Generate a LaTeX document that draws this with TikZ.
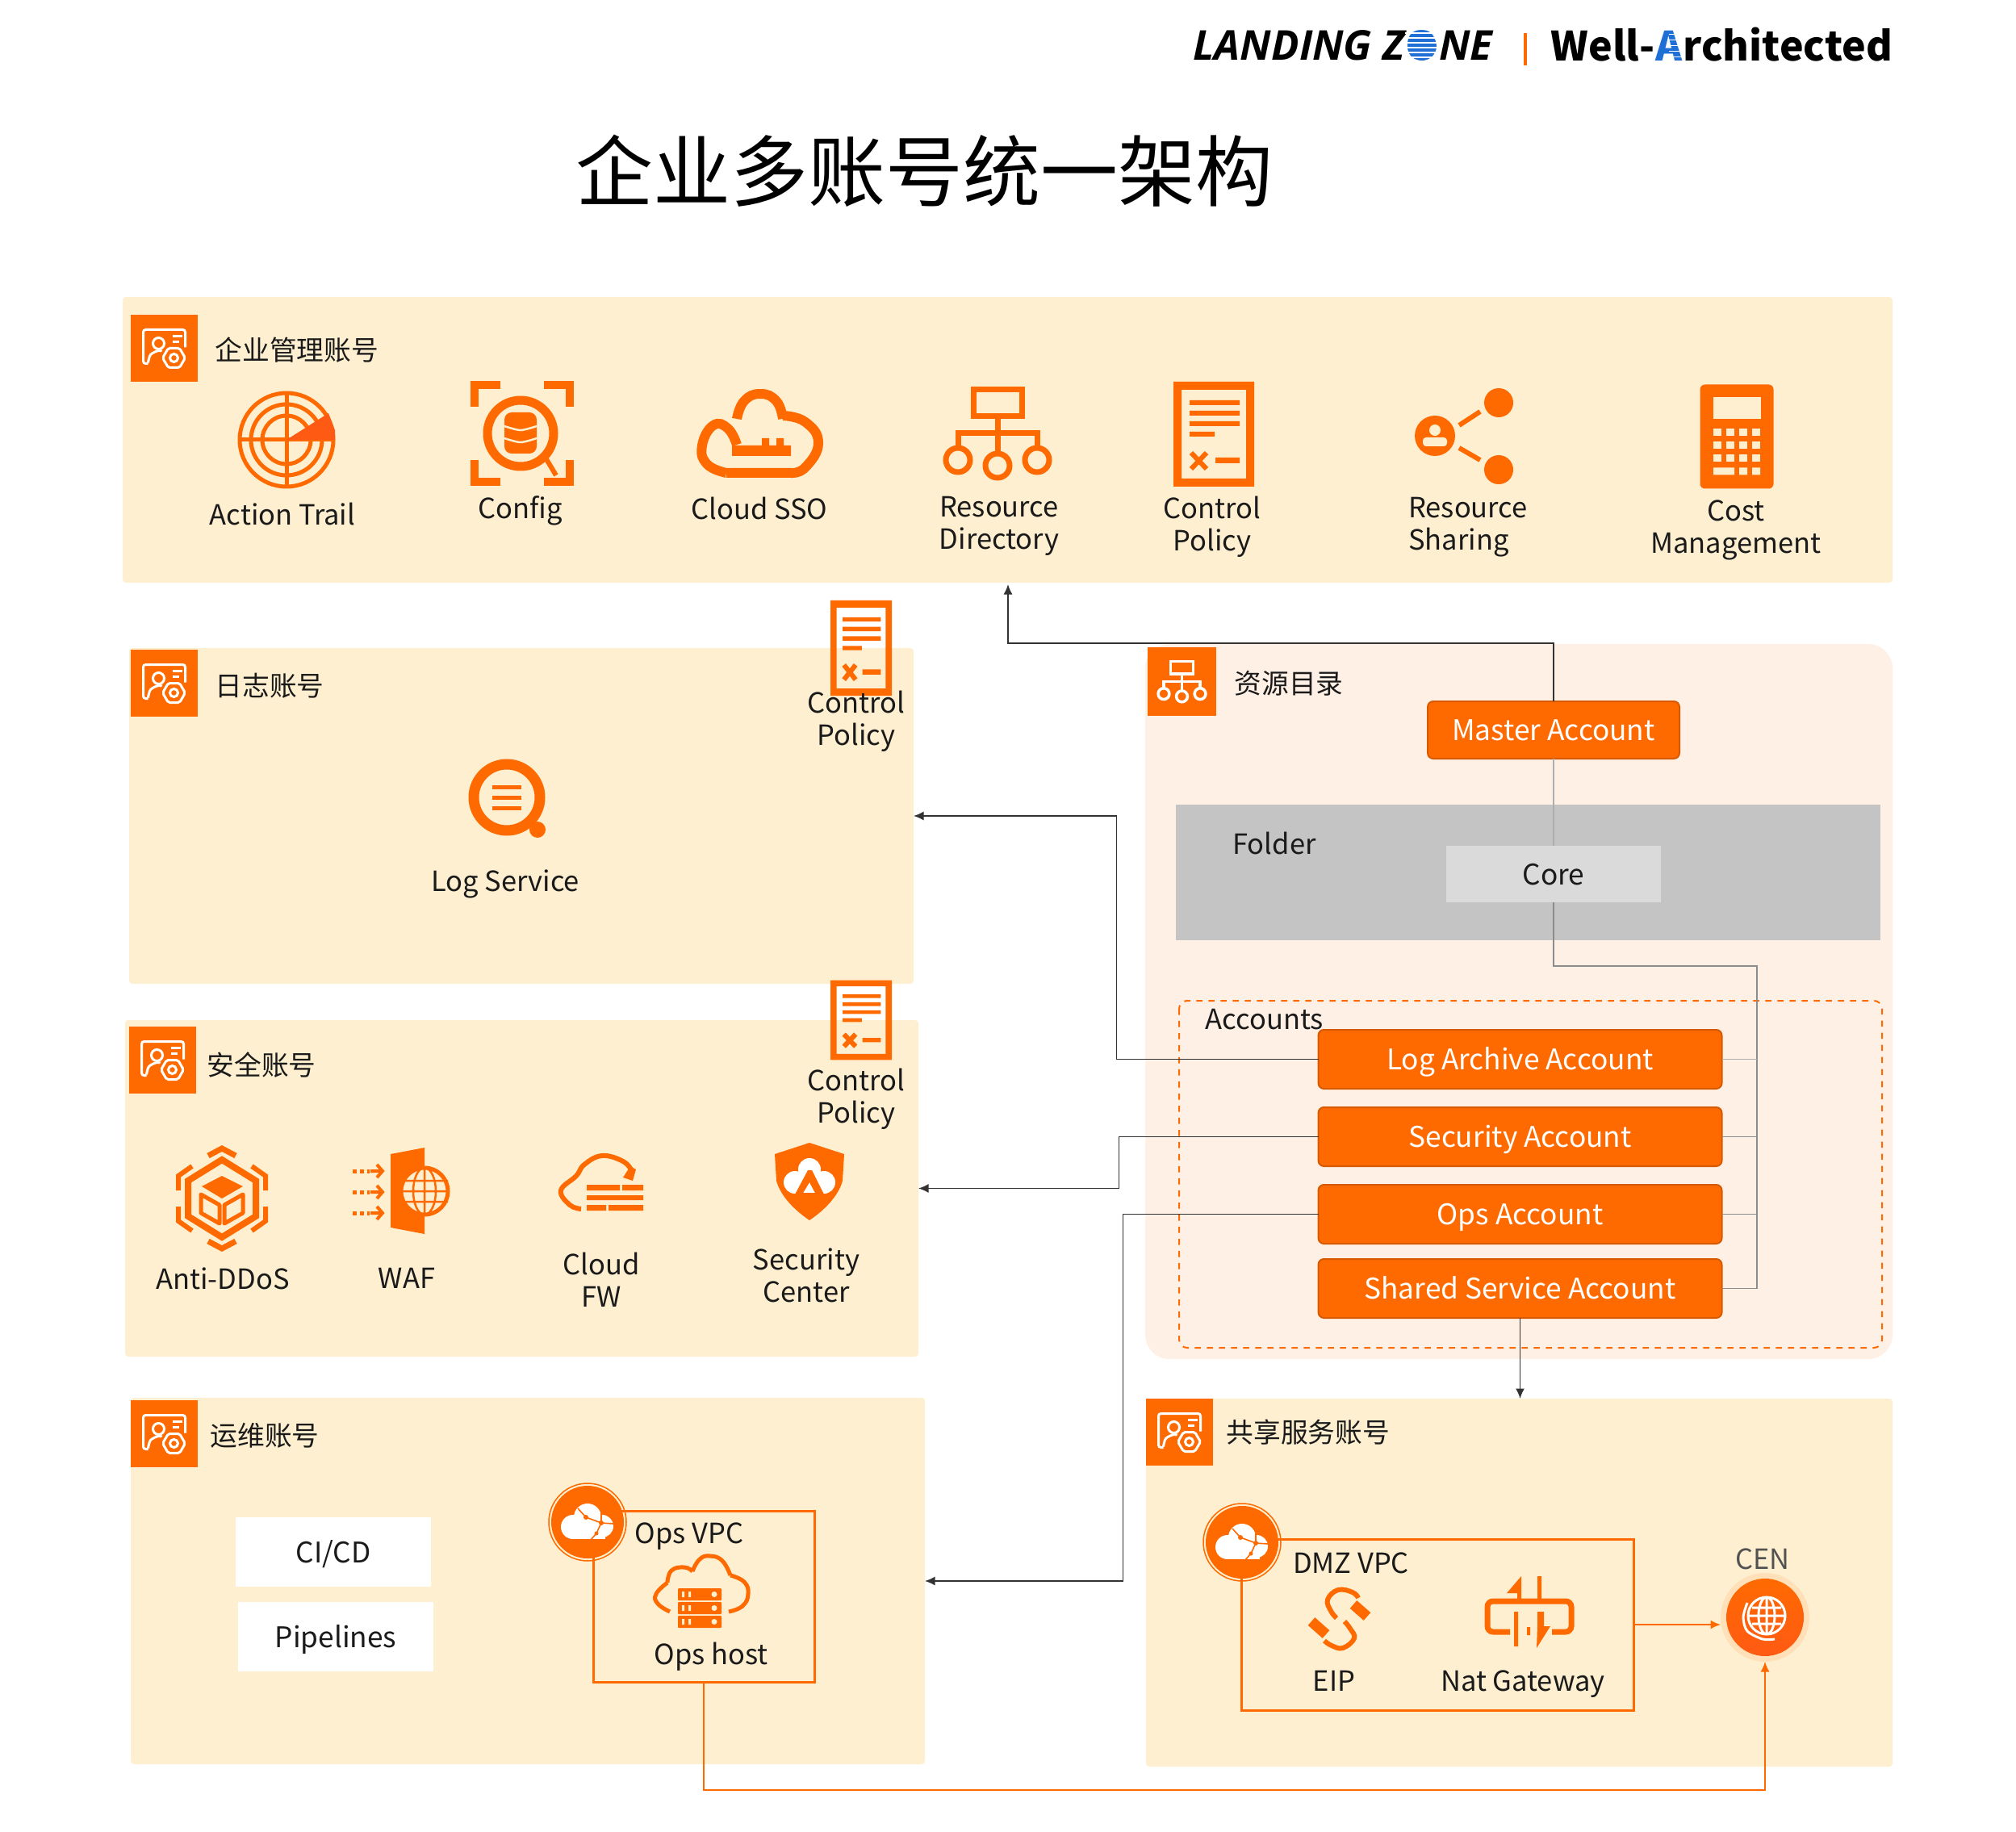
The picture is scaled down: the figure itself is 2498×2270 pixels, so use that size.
\documentclass[tikz,border=0pt]{standalone}
\usepackage{fontspec}
\setmainfont{Noto Sans CJK SC}
\newfontfamily\lzfont{Open Sans}
\usetikzlibrary{arrows.meta,positioning,shapes.geometric}
\definecolor{Orange}{HTML}{FF6A00}
\definecolor{Deep}{HTML}{FF5A14}
\definecolor{Cream}{HTML}{FEEFD0}
\definecolor{Blush}{HTML}{FFF0E6}
\definecolor{Ink}{HTML}{1A1A1A}
\definecolor{Edge}{HTML}{D85A00}
\definecolor{Folder}{HTML}{C4C4C4}
\definecolor{CoreGray}{HTML}{DADADA}
\definecolor{Wire}{HTML}{8C8C8C}
\definecolor{Dark}{HTML}{333333}
\definecolor{Halo}{HTML}{FFE0B8}
\definecolor{LogoBlue}{HTML}{1F6FD6}
\newlength\px
\setlength\px{0.4pt}
\tikzset{
  ctrl/.pic={
    \fill[Orange,even odd rule] (-50,-65) rectangle (50,65) (-40,-55) rectangle (40,55);
    \fill[Orange] (-30,-42) rectangle (32,-36) (-30,-29) rectangle (32,-23) (-30,-16) rectangle (32,-10) (-30,-3) rectangle (1,3) (2,29) rectangle (32,36);
    \draw[Orange,line width=6\px] (-28,23) -- (-9,43) (-9,23) -- (-28,43);
  },
  acct/.pic={
    \draw[white,line width=3\px,rounded corners=3\px] (26,-1) -- (26,-23) -- (-26,-23) -- (-26,19) -- (-20,19);
    \draw[white,line width=3\px] (-7,-6) circle (7);
    \draw[white,line width=3\px] plot[smooth] coordinates {(-20,18) (-17,8) (-7,3) (1,5)};
    \draw[white,line width=3\px] (10,-15) -- (22,-15) (10,-8) -- (18,-8);
    \fill[Orange] (12,12) circle (17);
    \draw[white,line width=3\px,rounded corners=2\px] (26,12) -- (19,24) -- (5,24) -- (-2,12) -- (5,0) -- (19,0) -- cycle;
    \draw[white,line width=3\px] (12,12) circle (5);
  },
  orgchart/.pic={
    \draw[pic actions] (-30,-54) rectangle (30,-21);
    \draw[pic actions] (0,-21) -- (0,25) (-49,18) -- (-49,0) -- (49,0) -- (49,18);
    \draw[pic actions] (-49,33) circle (15) (0,40) circle (15) (49,33) circle (15);
  },
  radar/.pic={
    \foreach \rr in {58,44,30} {\draw[Orange,line width=5\px] (0,0) circle (\rr);}
    \draw[Orange,line width=5\px] (-60,0) -- (60,0) (0,-60) -- (0,60);
    \fill[Deep] (0,0) -- (60,0) -- (60,-12) -- (52,-33) -- cycle;
  },
  configic/.pic={
    \draw[Orange,line width=10\px] (-59,-33) |- (-27,-60) (27,-60) -| (59,-33) (-59,33) |- (-27,60) (27,60) -| (59,33);
    \draw[Orange,line width=11\px] (-2,0) circle (41);
    \draw[Orange,line width=6\px] (30,32) -- (42,52);
    \fill[Orange,rounded corners=9\px] (-22,-26) rectangle (18,25);
    \draw[Cream,line width=2.5\px] plot[smooth] coordinates {(-22,-9) (-2,-4) (18,-9)};
    \draw[Cream,line width=2.5\px] plot[smooth] coordinates {(-22,6) (-2,11) (18,6)};
  },
  ssocloud/.pic={
    \draw[Orange,line width=12\px] plot[smooth,tension=.8] coordinates {(-29,-18) (-20,-40) (0,-49) (20,-40) (28,-18)};
    \draw[Orange,line width=12\px] plot[smooth,tension=.8] coordinates {(28,-22) (56,-14) (72,12) (56,42) (38,49)} -- (-42,49);
    \draw[Orange,line width=12\px] plot[smooth,tension=.8] coordinates {(-42,49) (-66,38) (-72,15) (-58,-10) (-40,-6) (-29,14)};
    \fill[Orange] (-35,15) rectangle (38,28) (2,6) rectangle (11,15) (20,6) rectangle (29,15);
  },
  sharing/.pic={
    \fill[Orange] (0,0) circle (25) (79,-41) circle (18) (79,42) circle (18);
    \draw[Orange,line width=6\px] (30,-13) -- (56,-30) (30,15) -- (56,30);
    \fill[Cream] (0,-7) circle (7);
    \fill[Cream,rounded corners=4\px] (-15,13) -- (-15,2) -- (15,2) -- (15,13) -- cycle;
  },
  calc/.pic={
    \fill[Orange,rounded corners=6\px] (-45.5,-64.5) rectangle (45.5,64.5);
    \fill[Cream] (-29,-49) rectangle (30,-22);
    \foreach \y in {-9.5,6.5,22.5} {\foreach \x in {-29,-13,3,19} {\fill[Cream] (\x,\y) rectangle ++(10,9);}}
    \fill[Cream] (-29,38.5) rectangle (-3,47.5) (3,38.5) rectangle (13,47.5) (19,38.5) rectangle (29,47.5);
  },
  logic/.pic={
    \draw[Orange,line width=13\px] (0,0) circle (41);
    \fill[Orange] (38,40) circle (10);
    \draw[Orange,line width=5\px] (-18,-13) -- (18,-13) (-18,0) -- (18,0) (-18,13) -- (18,13);
  },
  ddos/.pic={
    \draw[Orange,line width=8\px,line join=miter] (0,-48) -- (42,-22) -- (42,22) -- (0,48) -- (-42,22) -- (-42,-22) -- cycle;
    \fill[Orange] (0,-28) -- (26,-15) -- (0,0) -- (-25,-15) -- cycle;
    \draw[Orange,line width=5\px,line join=round] (-26,-5) -- (-3,8) -- (-3,31) -- (-26,18) -- cycle (26,-5) -- (3,8) -- (3,31) -- (26,18) -- cycle;
    \draw[Orange,line width=7\px] (-17,-53) -- (0,-62) -- (17,-53) (-17,53) -- (0,62) -- (17,53);
    \draw[Orange,line width=6\px] (-37,-40) -- (-54,-28) -- (-54,-10) (37,-40) -- (54,-28) -- (54,-10) (-37,40) -- (-54,28) -- (-54,10) (37,40) -- (54,28) -- (54,10);
  },
  wafic/.pic={
    \fill[Orange] (-13,-46) -- (29,-54) -- (29,53) -- (-13,45) -- cycle;
    \fill[Cream] (29,0) circle (29);
    \draw[Orange,line width=5\px] (29,0) circle (29);
    \draw[Orange,line width=2.5\px] (29,0) ellipse (14 and 29) (29,-29) -- (29,29) (0,-13) -- (58,-13) (0,0) -- (58,0) (0,13) -- (58,13);
    \foreach \y in {-25,1,27} {
      \draw[Orange,line width=5\px,dash pattern=on 5\px off 4\px] (-60,\y) -- (-39,\y);
      \draw[Orange,line width=4\px] (-38,\y) -- (-24,\y) (-30,\y-8) -- (-23,\y) -- (-30,\y+8);
    }
  },
  fwic/.pic={
    \draw[Orange,line width=6\px] plot[smooth,tension=.7] coordinates {(-24,33) (-38,28) (-49,10) (-30,-8) (-20,-22) (2,-33) (28,-26) (39,-14)};
    \fill[Orange] (37,-20) -- (44,-16) -- (40,-2) -- (28,-6) -- cycle;
    \fill[Orange] (-17,3) rectangle (24,10) (27,3) rectangle (53,10) (-17,16) rectangle (53,22) (-17,28) rectangle (7,35) (10,28) rectangle (53,35);
  },
  shieldic/.pic={
    \fill[Orange] (0,-48) -- (43,-34) -- (41,-1) .. controls (36,18) and (18,36) .. (0,48) .. controls (-18,36) and (-36,18) .. (-41,-1) -- (-43,-34) -- cycle;
    \fill[white] (0,-15) circle (14);
    \fill[white] (-18,1) circle (14);
    \fill[white] (18,1) circle (14);
    \fill[white] (-15,-5) rectangle (15,14);
    \fill[Orange] (-2,-14) -- (3,-14) -- (18,16) -- (8,16) -- (0,1) -- (-9,16) -- (-18,16) -- cycle;
  },
  vpcic/.pic={
    \fill[white] (0,-6) circle (17);
    \fill[white] (-18,6) circle (15);
    \fill[white] (18,5) circle (14);
    \fill[white] (-20,6) rectangle (22,21);
    \fill[white] (-12,-9) rectangle (12,10);
    \draw[Orange,line width=1.6\px] (-12,-17) -- (-2,-6) -- (17,1) -- (32,2) (17,-11) -- (17,1) -- (11,14) -- (3,23);
    \fill[Orange] (-2,-6) circle (3) (17,1) circle (3) (11,14) circle (2.5);
  },
  hostic/.pic={
    \draw[Orange,line width=5\px] plot[smooth,tension=.8] coordinates {(-40,25) (-55,15) (-57,3) (-43,-11)};
    \draw[Orange,line width=5\px] plot[smooth,tension=.8] coordinates {(-43,-11) (-38,-26) (-22,-30) (-12,-25)};
    \draw[Orange,line width=5\px] plot[smooth,tension=.8] coordinates {(-12,-25) (-3,-40) (10,-44) (25,-38) (35,-20)};
    \draw[Orange,line width=5\px] plot[smooth,tension=.8] coordinates {(35,-20) (52,-12) (57,3) (50,18) (33,25)};
    \foreach \y in {-4,13,30} {
      \fill[Orange,rounded corners=1\px] (-30,\y) rectangle (24,\y+15);
      \fill[Cream] (-25,\y+4) rectangle (-22,\y+11) (-17,\y+4) rectangle (-14,\y+11) (15,\y+7.5) circle (3.5);
    }
  },
  eipic/.pic={
    \draw[Orange,line width=6\px] plot[smooth,tension=.7] coordinates {(22,-26) (15,-33) (-3,-36) (-16,-24) (-12,-10) (-5,-1)};
    \draw[Orange,line width=6\px] plot[smooth,tension=.7] coordinates {(-20,27) (-11,33) (3,36) (17,24) (12,12) (5,3)};
    \draw[Orange,line width=13\px] (16,-18) -- (33,-3) (-36,3) -- (-18,19);
  },
  natic/.pic={
    \draw[Orange,line width=7\px,rounded corners=7\px] (-24,25) -- (-52,25) -- (-52,-13) -- (52,-13) -- (52,25) -- (28,25);
    \fill[Orange] (-28,-23) -- (-10,-44) -- (-10,-13) -- (-15,-13) -- (-15,-23) -- cycle (10,-44) rectangle (15,-13);
    \fill[Orange] (-19,0) rectangle (-14,43) (-3,19) rectangle (1,29) (10,0) -- (18,0) -- (18,18) -- (26,18) -- (9,45) -- (10,18) -- cycle;
  },
  cenic/.pic={
    \draw[white,line width=3\px] (2,-2) circle (23) (2,-2) ellipse (10 and 23) (2,-25) -- (2,21) (-20,-2) -- (25,-2) (-16,-12) -- (20,-12) (-16,8) -- (20,8);
    \draw[white,line width=3\px] plot[smooth] coordinates {(-22,-18) (-27,0) (-22,17) (-3,27) (12,27)};
  }
}
\begin{document}
\begin{tikzpicture}[x=0.4pt,y=-0.4pt,
    wh/.style 2 args={minimum width=#1\px,minimum height=#2\px},
    panel/.style={fill=Cream,rounded corners=4\px,anchor=north west,inner sep=0,outer sep=0},
    sq/.style={fill=Orange,anchor=north west,inner sep=0,outer sep=0,wh={83}{83}},
    head/.style={anchor=west,inner sep=0,text=Ink,font=\fontsize{13.5}{16}\selectfont},
    lbl/.style={inner sep=0,align=center,text=Ink,font=\fontsize{13.8}{16}\selectfont},
    boxtext/.style={text height=12pt,text depth=1.6pt,font=\fontsize{14.1}{16}\selectfont},
    acc/.style={draw=Edge,fill=Orange,line width=2\px,rounded corners=7\px,inner sep=0,outer sep=0,text=white,boxtext,wh={500}{73}},
    vbox/.style={draw=Orange,line width=3\px,anchor=north west,inner sep=0,outer sep=0},
    vpcc/.style={circle,fill=Orange,inner sep=0,outer sep=0,minimum size=90\px},
    whitebox/.style={fill=white,anchor=north west,inner sep=0,outer sep=0,text=Ink,boxtext,wh={242}{86}},
    grey/.style={draw=Wire,line width=1.5\px},
    darr/.style={draw=Dark,line width=1.5\px,-{Latex[length=5pt,width=4.4pt]}},
    oarr/.style={draw=Orange,line width=1.5\px,-{Latex[length=5pt,width=4.4pt]}}
  ]
    \useasboundingbox (0,0) rectangle (2498,2270);

    % header
    \node[anchor=base west,inner sep=0,font=\lzfont\bfseries\itshape\fontsize{20.4}{22}\selectfont] (lzleft) at (1478,75) {LANDING Z};
    \node[anchor=base west,inner sep=0,text=LogoBlue,font=\lzfont\bfseries\fontsize{20.4}{22}\selectfont] (lzo) at (lzleft.base east) {O};
    \node[anchor=base west,inner sep=0,font=\lzfont\bfseries\itshape\fontsize{20.4}{22}\selectfont] (lzright) at (lzo.base east) {NE};
    \fill[LogoBlue] ([yshift=18\px]lzo.base) ellipse (18 and 18);
    \foreach \dy in {4,10,...,34} {\draw[white,line width=1.5\px] ([yshift=\dy\px]lzo.base west) -- ([yshift=\dy\px]lzo.base east);}
    \node[fill=Orange,inner sep=0,outer sep=0,wh={4}{40}] (logobar) at (1890,61) {};
    \node[anchor=base west,inner sep=0,font=\bfseries\fontsize{20}{22}\selectfont] (walleft) at (1921,76) {Well-};
    \node[anchor=base west,inner sep=0,text=LogoBlue,font=\bfseries\fontsize{20}{22}\selectfont] (wala) at (walleft.base east) {A};
    \node[anchor=base west,inner sep=0,font=\bfseries\fontsize{20}{22}\selectfont] (walright) at (wala.base east) {rchitected};
    \foreach \dy in {6,13,...,34} {\draw[white,line width=.8\px] ([yshift=\dy\px]wala.base) -- ([yshift=\dy\px]wala.base east);}
    \node[inner sep=0,font=\fontsize{38.4}{40}\selectfont] (title) at (1145,212) {企业多账号统一架构};

    % panels
    \node[panel,wh={2193}{354}] (mgmt) at (152,368) {};
    \node[panel,wh={972}{416}] (logpanel) at (160,803) {};
    \node[panel,wh={983}{417}] (secpanel) at (155,1264) {};
    \node[panel,wh={984}{454}] (opspanel) at (162,1732) {};
    \node[panel,wh={925}{456}] (sharedpanel) at (1420,1733) {};
    \node[panel,fill=Blush,rounded corners=30\px,wh={926}{886}] (rdpanel) at (1419,798) {};

    % panel headings
    \node[sq] (mgmtsq) at (162,390) {}; \pic at (mgmtsq) {acct};
    \node[head] (mgmttitle) at (266,434) {企业管理账号};
    \node[sq] (logsq) at (162,805) {}; \pic at (logsq) {acct};
    \node[head] (logtitle) at (266,850) {日志账号};
    \node[sq] (secsq) at (160,1272) {}; \pic at (secsq) {acct};
    \node[head] (sectitle) at (256,1320) {安全账号};
    \node[sq] (opssq) at (162,1735) {}; \pic at (opssq) {acct};
    \node[head] (opstitle) at (260,1779) {运维账号};
    \node[sq] (sharedsq) at (1420,1733) {}; \pic at (sharedsq) {acct};
    \node[head] (sharedtitle) at (1519,1775) {共享服务账号};
    \node[sq,wh={85}{85}] (rdsq) at (1422,802) {};
    \pic[scale=.46,draw=white,line width=3.5\px] at (rdsq) {orgchart};
    \node[head] (rdtitle) at (1529,847) {资源目录};

    % management account
    \pic at (355,545) {radar};
    \node[lbl] (actionlbl) at (350,637) {Action Trail};
    \pic at (647,537) {configic};
    \node[lbl] (configlbl) at (645,633) {Config};
    \pic at (942,537) {ssocloud};
    \node[lbl] (ssolbl) at (941,630) {Cloud SSO};
    \pic[draw=Orange,line width=7\px] at (1236,537) {orgchart};
    \node[lbl] (dirlbl) at (1238,652) {Resource\\Directory};
    \pic at (1504,538) {ctrl};
    \node[lbl] (ctrllbl) at (1502,653) {Control\\Policy};
    \pic at (1778,540) {sharing};
    \node[lbl,align=left] (sharelbl) at (1819,653) {Resource\\Sharing};
    \pic at (2152,541) {calc};
    \node[lbl] (costlbl) at (2151,657) {Cost\\Management};

    % log account
    \pic[xscale=.76,yscale=.91] at (1067,803) {ctrl};
    \node[lbl] (logctrl) at (1061,894) {Control\\Policy};
    \pic at (628,988) {logic};
    \node[lbl] (loglbl) at (626,1095) {Log Service};

    % security account
    \pic[xscale=.76,yscale=.76] at (1067,1264) {ctrl};
    \node[lbl] (secctrl) at (1061,1362) {Control\\Policy};
    \pic at (275,1485) {ddos};
    \node[lbl] (ddoslbl) at (276,1584) {Anti-DDoS};
    \pic at (497,1476) {wafic};
    \node[lbl] (waflbl) at (504,1584) {WAF};
    \pic at (744,1465) {fwic};
    \node[lbl] (fwlbl) at (745,1586) {Cloud\\FW};
    \pic at (1003,1464) {shieldic};
    \node[lbl] (seclbl) at (999,1580) {Security\\Center};

    % ops account
    \node[whitebox] (cicd) at (292,1880) {CI/CD};
    \node[whitebox] (pipe) at (295,1985) {Pipelines};
    \node[vbox,wh={274}{212}] (opsbox) at (735,1872) {};
    \node[vpcc] (opsvc) at (728,1886) {};
    \draw[Orange,line width=1.5\px] (opsvc) circle (48);
    \pic at (opsvc) {vpcic};
    \node[lbl] (opsvpc) at (854,1904) {Ops VPC};
    \pic at (870,1972) {hostic};
    \node[lbl] (opshost) at (881,2053) {Ops host};

    % shared service account
    \node[vbox,wh={486}{212}] (dmzbox) at (1538,1907) {};
    \node[vpcc] (dmzvc) at (1539,1911) {};
    \draw[Orange,line width=1.5\px] (dmzvc) circle (48);
    \pic at (dmzvc) {vpcic};
    \node[lbl] (dmzvpc) at (1674,1937) {DMZ VPC};
    \pic at (1661,2006) {eipic};
    \node[lbl] (eiplbl) at (1653,2083) {EIP};
    \pic at (1895,1997) {natic};
    \node[lbl] (natlbl) at (1887,2087) {Nat Gateway};
    \node[circle,fill=Halo,inner sep=0,outer sep=0,minimum size=110\px] (cenhalo) at (2187,2004) {};
    \node[circle,top color=Orange,bottom color=Deep,inner sep=0,outer sep=0,minimum size=96\px] (cen) at (cenhalo) {};
    \pic at (cen) {cenic};
    \node[lbl,text=Dark!85] (cenlbl) at (2184,1932) {CEN};

    % resource directory
    \node[acc,wh={312}{71}] (master) at (1925,904.5) {Master Account};
    \node[fill=Folder,anchor=north west,inner sep=0,outer sep=0,wh={873}{168}] (folder) at (1457,997) {};
    \node[lbl] (folderlbl) at (1579,1045) {Folder};
    \node[fill=CoreGray,inner sep=0,outer sep=0,text=Ink,boxtext,wh={266}{70}] (core) at (1925,1083) {Core};
    \draw[Orange,line width=2\px,dashed,rounded corners=10\px] (1461,1240) rectangle (2332,1670);
    \node[lbl] (accountslbl) at (1567,1263) {Accounts};
    \node[acc] (logacc) at (1883.5,1312.5) {Log Archive Account};
    \node[acc,below=23\px of logacc] (secacc) {Security Account};
    \node[acc,below=23\px of secacc] (opsacc) {Ops Account};
    \node[acc,below=19\px of opsacc] (sharedacc) {Shared Service Account};

    % connectors
    \coordinate (mgmtin) at (1249,724);
    \coordinate (trunk) at (2177,1197);
    \draw[darr] (master.north) -- ++(0,-72) -| (mgmtin);
    \draw[grey,Wire!70] (master.south) -- (core.north);
    \draw[grey] (core.south) |- (trunk) |- (sharedacc.east);
    \draw[grey,Wire!70] (logacc.east) -- (logacc.east -| trunk);
    \draw[grey] (secacc.east) -- (secacc.east -| trunk);
    \draw[grey] (opsacc.east) -- (opsacc.east -| trunk);
    \draw[darr] (logacc.west) -- ++(-250,0) |- (logpanel.east);
    \draw[darr] (secacc.west) -- ++(-247,0) |- (secpanel.east);
    \draw[darr] (opsacc.west) -- ++(-242,0) |- (opspanel.east);
    \draw[darr] (sharedacc.south) -- (sharedacc.south |- sharedpanel.north);
    \draw[oarr] (dmzbox.east) -- (dmzbox.east -| cenhalo.west);
    \draw[oarr] (opsbox.south) -- ++(0,134) -| (cenhalo.south);
  \end{tikzpicture}
\end{document}
